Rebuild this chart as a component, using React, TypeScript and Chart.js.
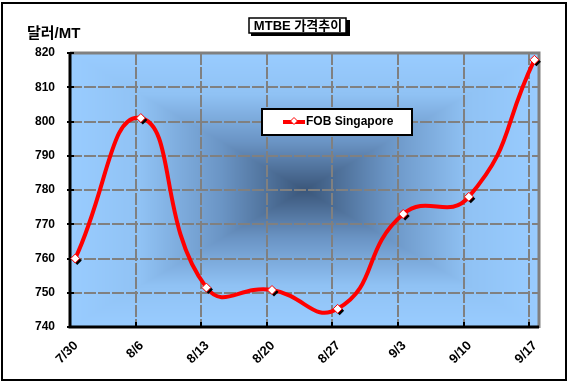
import React, { useEffect, useRef } from "react";
import { Chart, registerables } from "chart.js";

Chart.register(...registerables);

const categories = ["7/30", "8/6", "8/13", "8/20", "8/27", "9/3", "9/10", "9/17"];
const fobSingapore = [760, 801, 751.5, 750.8, 745.3, 773, 778, 818];
const yTicks = [740, 750, 760, 770, 780, 790, 800, 810, 820];
const seriesName = "FOB Singapore";
const chartTitle = "MTBE 가격추이";
const yTitle = "달러/MT";

const FONT = "Arial, 'Liberation Sans', 'Noto Sans CJK KR', sans-serif";
const POINT_SHIFT = 0.08;
// gradient stops from plot edge (0) to plot centre (1)
const GRAD_STOPS: [number, number[]][] = [
  [0, [0x99, 0xcc, 0xff]],
  [0.3, [0x90, 0xc2, 0xf4]],
  [0.65, [0x6a, 0x94, 0xc4]],
  [1, [0x3a, 0x56, 0x7a]],
];

function gradColor(t: number): number[] {
  for (let i = 1; i < GRAD_STOPS.length; i++) {
    const [t1, c1] = GRAD_STOPS[i];
    const [t0, c0] = GRAD_STOPS[i - 1];
    if (t <= t1) {
      const f = (t - t0) / (t1 - t0);
      return c0.map((c, k) => c + (c1[k] - c) * f);
    }
  }
  return GRAD_STOPS[GRAD_STOPS.length - 1][1];
}

function diamond(ctx: CanvasRenderingContext2D, x: number, y: number, r: number) {
  ctx.beginPath();
  ctx.moveTo(x, y - r);
  ctx.lineTo(x + r, y);
  ctx.lineTo(x, y + r);
  ctx.lineTo(x - r, y);
  ctx.closePath();
}

const decorPlugin = {
  id: "decor",
  beforeDraw(chart: any) {
    const { ctx, chartArea: a } = chart;
    ctx.save();
    ctx.fillStyle = "#fff";
    ctx.fillRect(0, 0, chart.width, chart.height);
    ctx.strokeStyle = "#000";
    ctx.lineWidth = 2;
    ctx.strokeRect(2, 3, 564, 377);
    ctx.restore();

    const L = Math.round(a.left), T = Math.round(a.top);
    const w = Math.round(a.right) - L, h = Math.round(a.bottom) - T;
    const img = ctx.createImageData(w, h);
    const hw = w / 2, hh = h / 2;
    for (let y = 0; y < h; y++) {
      for (let x = 0; x < w; x++) {
        const dx = Math.abs(x + 0.5 - hw) / hw;
        const dy = Math.abs(y + 0.5 - hh) / hh;
        const t = 1 - Math.max(dx, dy);
        const c = gradColor(t);
        const o = (y * w + x) * 4;
        img.data[o] = c[0];
        img.data[o + 1] = c[1];
        img.data[o + 2] = c[2];
        img.data[o + 3] = 255;
      }
    }
    ctx.putImageData(img, L, T);
  },
  beforeDatasetsDraw(chart: any) {
    const { ctx, chartArea: a, scales } = chart;
    const xs = scales.x, ys = scales.y;
    ctx.save();
    ctx.strokeStyle = "#808080";
    ctx.lineWidth = 2;
    ctx.setLineDash([12, 2]);
    yTicks.forEach((v) => {
      const y = Math.round(ys.getPixelForValue(v));
      ctx.beginPath();
      ctx.moveTo(a.left, y);
      ctx.lineTo(a.right, y);
      ctx.stroke();
    });
    categories.forEach((_, i) => {
      const x = Math.round(xs.getPixelForValue(i));
      ctx.beginPath();
      ctx.moveTo(x, a.top);
      ctx.lineTo(x, a.bottom);
      ctx.stroke();
    });
    ctx.setLineDash([]);
    ctx.lineWidth = 3;
    ctx.beginPath();
    ctx.moveTo(a.left, a.top);
    ctx.lineTo(a.right, a.top);
    ctx.lineTo(a.right, a.bottom + 1);
    ctx.stroke();
    ctx.strokeStyle = "#000";
    ctx.beginPath();
    ctx.moveTo(a.left, a.top - 1);
    ctx.lineTo(a.left, a.bottom);
    ctx.lineTo(a.right, a.bottom);
    ctx.stroke();
    ctx.lineWidth = 2;
    yTicks.forEach((v) => {
      const y = Math.round(ys.getPixelForValue(v));
      ctx.beginPath();
      ctx.moveTo(a.left - 3, y);
      ctx.lineTo(a.left + 4, y);
      ctx.stroke();
    });
    categories.forEach((_, i) => {
      const x = Math.round(xs.getPixelForValue(i));
      ctx.beginPath();
      ctx.moveTo(x, a.bottom);
      ctx.lineTo(x, a.bottom - 5);
      ctx.stroke();
    });
    ctx.restore();
  },
  afterDatasetsDraw(chart: any) {
    const { ctx } = chart;
    const meta = chart.getDatasetMeta(0);
    ctx.save();
    meta.data.forEach((p: any) => {
      ctx.fillStyle = "#000";
      diamond(ctx, p.x + 2, p.y + 2, 4.5);
      ctx.fill();
      ctx.fillStyle = "#fff";
      ctx.strokeStyle = "#ff0000";
      ctx.lineWidth = 1;
      diamond(ctx, p.x, p.y, 4.5);
      ctx.fill();
      ctx.stroke();
    });
    ctx.restore();
  },
  afterDraw(chart: any) {
    const { ctx } = chart;
    ctx.save();
    ctx.fillStyle = "#000";
    ctx.fillRect(251, 20, 99, 16);
    ctx.fillStyle = "#fff";
    ctx.fillRect(249, 18, 97, 15);
    ctx.strokeStyle = "#000";
    ctx.lineWidth = 1.5;
    ctx.strokeRect(249, 18, 97, 15);
    ctx.fillStyle = "#000";
    ctx.font = `bold 13px ${FONT}`;
    ctx.textAlign = "center";
    ctx.textBaseline = "middle";
    ctx.fillText(chartTitle, 298, 26);
    ctx.textAlign = "left";
    ctx.font = `bold 15px ${FONT}`;
    ctx.fillText(yTitle, 27, 34);
    ctx.fillStyle = "#fff";
    ctx.fillRect(262, 109, 150, 26);
    ctx.lineWidth = 2;
    ctx.strokeRect(262, 109, 150, 26);
    ctx.strokeStyle = "#ff0000";
    ctx.lineWidth = 4;
    ctx.beginPath();
    ctx.moveTo(283, 122);
    ctx.lineTo(305, 122);
    ctx.stroke();
    ctx.fillStyle = "#fff";
    ctx.lineWidth = 1;
    diamond(ctx, 294, 121, 3.5);
    ctx.fill();
    ctx.stroke();
    ctx.fillStyle = "#000";
    ctx.font = `bold 12px ${FONT}`;
    ctx.textBaseline = "middle";
    ctx.fillText(seriesName, 306, 122);
    ctx.restore();
  },
};

export default function App() {
  const ref = useRef<HTMLCanvasElement | null>(null);
  useEffect(() => {
    document.body.style.margin = "0";
    const canvas = ref.current!;
    const chart = new Chart(canvas, {
      type: "line",
      data: {
        datasets: [
          {
            label: seriesName,
            data: fobSingapore.map((v, i) => ({ x: i + POINT_SHIFT, y: v })),
            borderColor: "#ff0000",
            borderWidth: 4,
            tension: 0.5,
            pointRadius: 0,
            fill: false,
          },
        ],
      },
      options: {
        responsive: false,
        animation: false,
        devicePixelRatio: 1,
        layout: { padding: { top: 53, right: 30, left: 0, bottom: 0 } },
        plugins: { legend: { display: false }, title: { display: false }, tooltip: { enabled: false } },
        scales: {
          x: {
            type: "linear",
            min: 0,
            max: 7.15,
            afterBuildTicks: (s: any) => {
              s.ticks = categories.map((_, i) => ({ value: i }));
            },
            afterFit: (s: any) => {
              s.height = 56;
            },
            grid: { display: false, drawTicks: false },
            border: { display: false },
            ticks: {
              autoSkip: false,
              minRotation: 45,
              maxRotation: 45,
              padding: 11,
              labelOffset: 6,
              color: "#000",
              font: { family: FONT, size: 13, weight: "bold" },
              callback: (v: any) => categories[Math.round(Number(v))] ?? "",
            },
          },
          y: {
            min: 740,
            max: 820,
            afterBuildTicks: (s: any) => {
              s.ticks = yTicks.map((v) => ({ value: v }));
            },
            afterFit: (s: any) => {
              s.width = 70;
            },
            grid: { display: false, drawTicks: false },
            border: { display: false },
            ticks: {
              padding: 15,
              color: "#000",
              font: { family: FONT, size: 12, weight: "bold" },
            },
          },
        },
      },
      plugins: [decorPlugin],
    } as any);
    return () => chart.destroy();
  }, []);
  return <canvas ref={ref} width={569} height={383} style={{ display: "block", width: 569, height: 383 }} />;
}
